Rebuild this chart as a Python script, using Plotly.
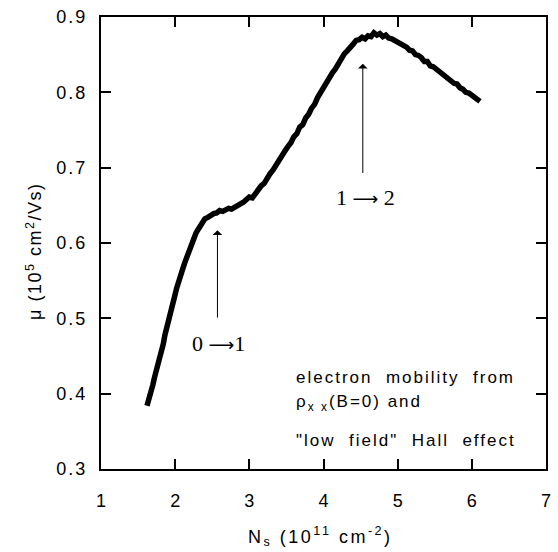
import plotly.graph_objects as go

ns = [1.62, 1.64, 1.66, 1.68, 1.70, 1.72, 1.74, 1.76, 1.78, 1.80, 1.82, 1.84, 1.86, 1.88,
      1.90, 1.92, 1.94, 1.96, 1.98, 2.00, 2.02, 2.04, 2.06, 2.08, 2.10, 2.13, 2.16, 2.19,
      2.22, 2.25, 2.28, 2.31, 2.34, 2.37, 2.40, 2.44, 2.48, 2.52, 2.56, 2.60, 2.64, 2.68,
      2.72, 2.76, 2.80, 2.84, 2.88, 2.92, 2.96, 3.00, 3.04, 3.08, 3.12, 3.16, 3.20, 3.24,
      3.28, 3.32, 3.36, 3.40, 3.44, 3.48, 3.52, 3.56, 3.60, 3.64, 3.68, 3.72, 3.76, 3.80,
      3.84, 3.88, 3.92, 3.96, 4.00, 4.04, 4.08, 4.12, 4.16, 4.20, 4.24, 4.28, 4.32, 4.36,
      4.40, 4.44, 4.48, 4.52, 4.56, 4.60, 4.64, 4.68, 4.72, 4.76, 4.80, 4.84, 4.88, 4.92,
      4.96, 5.00, 5.04, 5.08, 5.12, 5.16, 5.20, 5.24, 5.28, 5.32, 5.36, 5.40, 5.44, 5.48,
      5.52, 5.56, 5.60, 5.64, 5.68, 5.72, 5.76, 5.80, 5.84, 5.88, 5.92, 5.96, 6.00, 6.04,
      6.08, 6.11]
mobility = [0.384, 0.390, 0.397, 0.406, 0.412, 0.421, 0.428, 0.436, 0.444, 0.450, 0.459, 0.466,
            0.477, 0.484, 0.493, 0.500, 0.506, 0.516, 0.524, 0.532, 0.540, 0.545, 0.551, 0.559,
            0.565, 0.574, 0.582, 0.593, 0.600, 0.606, 0.613, 0.618, 0.624, 0.628, 0.632, 0.634,
            0.637, 0.639, 0.640, 0.643, 0.642, 0.645, 0.646, 0.645, 0.648, 0.649, 0.652, 0.654,
            0.657, 0.661, 0.660, 0.666, 0.670, 0.676, 0.679, 0.687, 0.692, 0.697, 0.704, 0.708,
            0.716, 0.722, 0.728, 0.733, 0.741, 0.745, 0.754, 0.757, 0.766, 0.771, 0.779, 0.784,
            0.793, 0.800, 0.806, 0.813, 0.818, 0.826, 0.831, 0.839, 0.843, 0.851, 0.855, 0.861,
            0.864, 0.869, 0.870, 0.873, 0.871, 0.875, 0.874, 0.879, 0.876, 0.878, 0.874, 0.876,
            0.872, 0.871, 0.869, 0.867, 0.866, 0.862, 0.860, 0.856, 0.855, 0.850, 0.849, 0.846,
            0.841, 0.841, 0.835, 0.834, 0.831, 0.826, 0.825, 0.820, 0.819, 0.815, 0.812, 0.811,
            0.806, 0.804, 0.800, 0.799, 0.796, 0.794, 0.791, 0.788]

xticks = [1, 2, 3, 4, 5, 6, 7]
yticks = [0.3, 0.4, 0.5, 0.6, 0.7, 0.8, 0.9]

arrow_x = [2.57, 4.53]
arrow_head = [0.617, 0.838]
arrow_tail = [0.499, 0.691]
arrow_from = ["0", "1"]
arrow_to = ["1", "2"]
label_x = [2.59, 4.56]
label_y = [0.467, 0.660]

note_lines = ["electron\u00a0\u00a0mobility\u00a0\u00a0from",
              "\u03c1<sub>x x</sub>(B=0) and",
              "\"low\u00a0\u00a0field\"\u00a0\u00a0Hall\u00a0\u00a0effect"]
note_x = 3.6
note_y = [0.421, 0.388, 0.338]

sans = "Liberation Sans, Arial, sans-serif"
serif = "Liberation Serif, Times New Roman, serif"


def spaced(txt, px):
    return f'<span style="letter-spacing:{px}px">{txt}</span>'


fig = go.Figure()
fig.add_trace(go.Scatter(x=ns, y=mobility, mode="lines",
                         line=dict(color="black", width=5.5), showlegend=False))

axis_common = dict(showline=True, linecolor="black", linewidth=2, mirror="ticks",
                   ticks="inside", ticklen=10, tickwidth=1.5, tickcolor="black",
                   showgrid=False, zeroline=False,
                   tickfont=dict(family=sans, size=18, color="black"))
fig.update_xaxes(range=[1, 7], tickvals=xticks, ticktext=[str(v) for v in xticks],
                 ticklabelstandoff=14, **axis_common)
fig.update_yaxes(range=[0.3, 0.9], tickvals=yticks,
                 ticktext=[spaced(f"{v:.1f}", 2) for v in yticks],
                 ticklabelstandoff=8, **axis_common)

anns = []
for xa, yh, yt, a, b, lx, ly in zip(arrow_x, arrow_head, arrow_tail, arrow_from, arrow_to,
                                    label_x, label_y):
    anns.append(dict(x=xa, y=yh, ax=xa, ay=yt, xref="x", yref="y", axref="x", ayref="y",
                     text="", showarrow=True, arrowhead=1, arrowsize=1.6, arrowwidth=1,
                     arrowcolor="black"))
    lab = (f'{a} <span style="font-family:DejaVu Sans;font-size:18px">\u27f6</span>'
           + ("" if a == "0" else " ") + b)
    anns.append(dict(x=lx, y=ly, xref="x", yref="y", text=lab, showarrow=False,
                     font=dict(family=serif, size=22, color="black")))
for line, ny in zip(note_lines, note_y):
    anns.append(dict(x=note_x, y=ny, xref="x", yref="y", text=spaced(line, 2),
                     showarrow=False, xanchor="left", yanchor="middle",
                     font=dict(family=sans, size=17, color="black")))
anns.append(dict(x=-0.151, y=0.482, xref="paper", yref="paper", textangle=-90,
                 text=spaced("\u03bc (10<sup>5</sup> cm<sup>2</sup>/Vs)", 1.5), showarrow=False,
                 xanchor="center", yanchor="middle",
                 font=dict(family=sans, size=18, color="black")))
anns.append(dict(x=0.493, y=-0.149, xref="paper", yref="paper",
                 text=spaced("N<sub>s</sub> (10<sup>11</sup> cm<sup>-2</sup>)", 2.5),
                 showarrow=False, xanchor="center", yanchor="middle",
                 font=dict(family=sans, size=18, color="black")))

fig.update_layout(width=558, height=552, margin=dict(l=101, r=7, t=13, b=83),
                  paper_bgcolor="white", plot_bgcolor="white", annotations=anns)

fig.write_html("out.html")
